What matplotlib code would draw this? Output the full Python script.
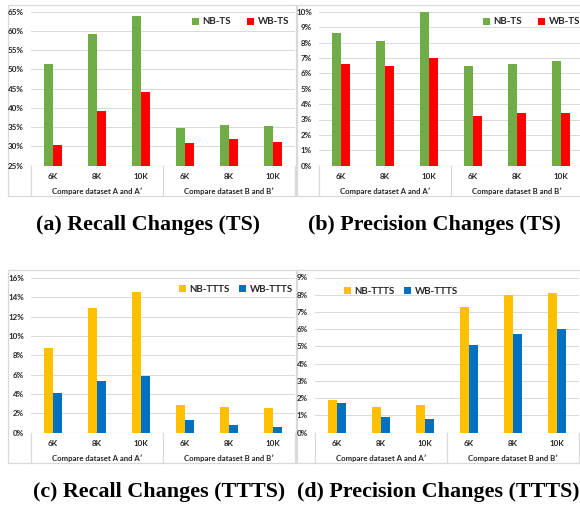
import matplotlib
matplotlib.use("Agg")
import matplotlib.pyplot as plt
from matplotlib.patches import Rectangle
from matplotlib.ticker import FuncFormatter

W, H = 580, 508
DPI = 100

categories = ["6K", "8K", "10K", "6K", "8K", "10K"]
groups = ["Compare dataset A and A\u2032", "Compare dataset B and B\u2032"]

recall_ts_nb = [51.5, 59.3, 64.0, 34.7, 35.5, 35.3]
recall_ts_wb = [30.4, 39.3, 44.2, 30.9, 31.9, 31.2]
prec_ts_nb = [8.6, 8.1, 10.0, 6.5, 6.6, 6.8]
prec_ts_wb = [6.6, 6.5, 7.0, 3.2, 3.4, 3.4]
recall_ttts_nb = [8.7, 12.9, 14.6, 2.8, 2.6, 2.5]
recall_ttts_wb = [4.1, 5.3, 5.9, 1.3, 0.8, 0.6]
prec_ttts_nb = [1.9, 1.5, 1.6, 7.3, 8.0, 8.1]
prec_ttts_wb = [1.7, 0.9, 0.8, 5.1, 5.7, 6.0]

captions = ["(a) Recall Changes (TS)", "(b) Precision Changes (TS)",
            "(c) Recall Changes (TTTS)", "(d) Precision Changes (TTTS)"]

GREEN, RED = "#70AD47", "#FF0000"
YELLOW, BLUE = "#FFC000", "#0070C0"
GRID = "#D9D9D9"
TXT = "#262626"
SANS = ["Lato", "DejaVu Sans"]

fig = plt.figure(figsize=(W / DPI, H / DPI), dpi=DPI)


def fx(px):
    return px / W


def fy(py):
    return 1 - py / H


def border(l, t, r, b):
    fig.patches.append(Rectangle((fx(l), fy(b)), fx(r) - fx(l), fy(t) - fy(b),
                                 transform=fig.transFigure, fill=False,
                                 edgecolor=GRID, linewidth=0.9, zorder=-5))


def panel(l, t, r, b, chart_bottom, nb, wb, c1, c2, names, ylim, step,
          leg_x, leg_y, colsp):
    ax = fig.add_axes([fx(l), fy(b), fx(r) - fx(l), fy(t) - fy(b)])
    ax.patch.set_alpha(0)
    x = list(range(len(categories)))
    w = 0.205
    ax.bar([i - w / 2 for i in x], nb, width=w, color=c1, label=names[0], zorder=3)
    ax.bar([i + w / 2 for i in x], wb, width=w, color=c2, label=names[1], zorder=3)
    ax.set_xlim(-0.5, len(categories) - 0.5)
    ax.set_ylim(*ylim)
    ticks = []
    v = ylim[0]
    while v <= ylim[1] + 1e-9:
        ticks.append(v)
        v += step
    ax.set_yticks(ticks)
    ax.yaxis.set_major_formatter(FuncFormatter(lambda v, p: f"{v:.0f}%"))
    ax.set_xticks([])
    for s in ax.spines.values():
        s.set_visible(False)
    ax.grid(axis="y", color=GRID, linewidth=0.7, zorder=0)
    ax.tick_params(axis="y", length=0, pad=5, labelsize=5.8, labelcolor=TXT)
    for lab in ax.get_yticklabels():
        lab.set_fontfamily(SANS)
        lab.set_fontweight("bold")
    ax.axhline(ylim[0], color=GRID, linewidth=0.9, zorder=2)
    axis_h = b - t
    for i, c in enumerate(categories):
        ax.text(i, -11.0 / axis_h, c, transform=ax.get_xaxis_transform(),
                ha="center", va="center", fontsize=5.8, fontweight="bold",
                family=SANS, color=TXT)
    for g, name in enumerate(groups):
        ax.text(g * 3 + 1, -25.5 / axis_h, name, transform=ax.get_xaxis_transform(),
                ha="center", va="center", fontsize=5.6, fontweight="bold",
                family=SANS, color=TXT)
    ybot = -(chart_bottom - b) / axis_h
    for xs in [-0.5, 2.5, 5.5]:
        ax.plot([xs, xs], [0, ybot], transform=ax.get_xaxis_transform(),
                color=GRID, linewidth=0.9, clip_on=False)
    leg = ax.legend(loc="center left", bbox_to_anchor=(fx(leg_x), fy(leg_y)),
                    bbox_transform=fig.transFigure, ncol=2, frameon=False,
                    handlelength=0.75, handleheight=0.75, handletextpad=0.35,
                    columnspacing=colsp, borderpad=0, borderaxespad=0,
                    prop={"family": SANS, "weight": "bold", "size": 7.0})
    for t_ in leg.get_texts():
        t_.set_color(TXT)
    return ax


border(8, 5, 296, 196)
border(297, 5, 590, 196)
border(8, 270, 296, 463)
border(297, 270, 590, 463)

panel(31, 11.7, 295, 165.7, 196, recall_ts_nb, recall_ts_wb, GREEN, RED,
      ["NB-TS", "WB-TS"], (25, 65), 5, 192, 22, 1.6)
panel(319, 11.7, 583, 165.7, 196, prec_ts_nb, prec_ts_wb, GREEN, RED,
      ["NB-TS", "WB-TS"], (0, 10), 1, 483, 22, 1.6)
panel(31, 278, 295, 432.5, 463, recall_ttts_nb, recall_ttts_wb, YELLOW, BLUE,
      ["NB-TTTS", "WB-TTTS"], (0, 16), 2, 179, 289, 0.9)
panel(315, 277.5, 579, 432.7, 463, prec_ttts_nb, prec_ttts_wb, YELLOW, BLUE,
      ["NB-TTTS", "WB-TTTS"], (0, 9), 1, 344, 291, 0.9)

SERIF = ["Liberation Serif", "DejaVu Serif"]
cap_pos = [(148, 225), (434, 225), (159, 492), (438, 492)]
for (cx, cy), cap in zip(cap_pos, captions):
    fig.text(fx(cx), fy(cy), cap, ha="center", va="center", fontsize=15.8,
             fontweight="bold", family=SERIF, color="black")

fig.savefig("out.png", dpi=DPI)
